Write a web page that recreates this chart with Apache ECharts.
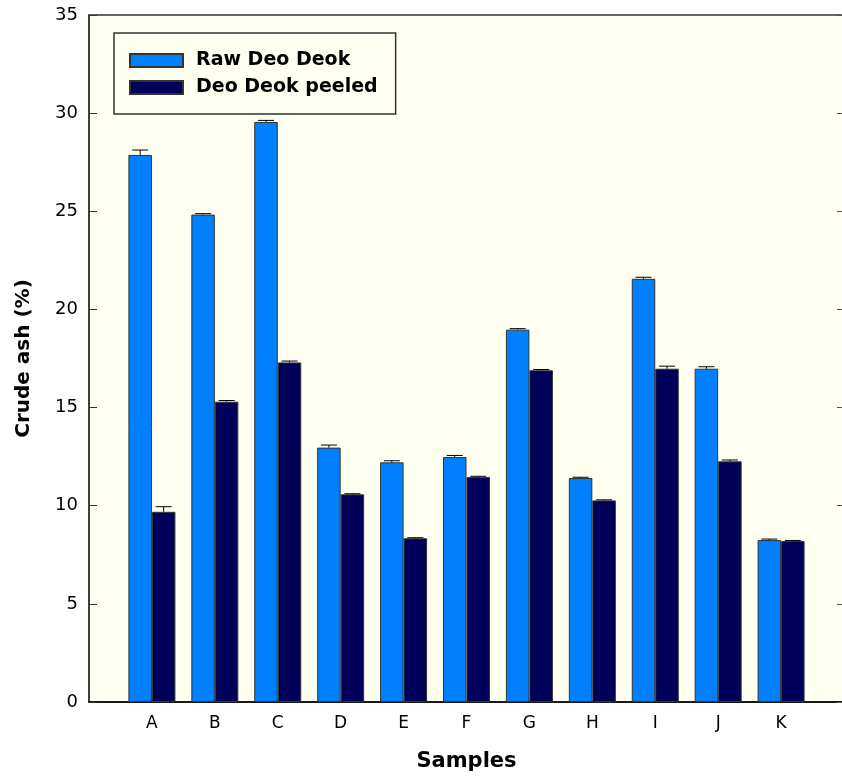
<!DOCTYPE html>
<html>
<head>
<meta charset="utf-8">
<script src="https://cdn.jsdelivr.net/npm/echarts@6/dist/echarts.min.js"></script>
<style>
html,body{margin:0;padding:0;background:#fff;}
#chart{width:842px;height:780px;}
</style>
</head>
<body>
<div id="chart"></div>
<script>
const categories = ['A','B','C','D','E','F','G','H','I','J','K'];
const rawValues = [27.87, 24.83, 29.55, 12.96, 12.21, 12.48, 18.97, 11.41, 21.56, 16.98, 8.25];
const rawErrors = [0.25, 0.05, 0.08, 0.13, 0.08, 0.08, 0.05, 0.04, 0.08, 0.10, 0.05];
const peeledValues = [9.69, 15.30, 17.30, 10.58, 8.34, 11.46, 16.90, 10.27, 16.98, 12.26, 8.20];
const peeledErrors = [0.26, 0.06, 0.07, 0.03, 0.03, 0.04, 0.04, 0.03, 0.13, 0.07, 0.03];
const yTicks = [0, 5, 10, 15, 20, 25, 30, 35];
const seriesNames = ['Raw Deo Deok', 'Deo Deok peeled'];

const BAR_W = 23.5;
const FONT = 'DejaVu Sans';
const axisData = [''].concat(categories, ['']);
function padded(arr) { return [null].concat(arr, [null]); }
function errData(vals, errs) { return vals.map((v, i) => [i + 1, v, errs[i]]); }

function errRender(offset) {
  return function (params, api) {
    const idx = api.value(0), v = api.value(1), e = api.value(2);
    const base = api.coord([idx, v]);
    const top = api.coord([idx, v + e]);
    const x = base[0] + offset;
    return {
      type: 'group',
      children: [
        { type: 'line', shape: { x1: x, y1: base[1], x2: x, y2: top[1] }, style: { stroke: '#000', lineWidth: 1 } },
        { type: 'line', shape: { x1: x - 8, y1: top[1], x2: x + 8, y2: top[1] }, style: { stroke: '#000', lineWidth: 1 } }
      ]
    };
  };
}

const chart = echarts.init(document.getElementById('chart'));
chart.setOption({
  animation: false,
  backgroundColor: '#ffffff',
  grid: {
    left: 89, right: -2, top: 15, bottom: 78,
    outerBoundsMode: 'none', containLabel: false,
    show: true, backgroundColor: '#fffff0', borderColor: '#333', borderWidth: 1.5
  },
  legend: {
    data: seriesNames,
    orient: 'vertical',
    left: 114, top: 33,
    itemWidth: 53, itemHeight: 13, itemGap: 8,
    padding: [18, 18, 17, 15],
    borderColor: '#333', borderWidth: 1.5,
    backgroundColor: '#fffff0',
    icon: 'rect',
    textStyle: { fontFamily: FONT, fontWeight: 'bold', fontSize: 19, color: '#000', padding: [0, 0, 0, 8] }
  },
  xAxis: {
    type: 'category',
    data: axisData,
    boundaryGap: false,
    axisLine: { lineStyle: { color: '#000', width: 1.5 } },
    axisTick: { show: false },
    axisLabel: { fontFamily: FONT, fontSize: 17, color: '#000', margin: 13, interval: 0 },
    name: 'Samples',
    nameLocation: 'middle',
    nameGap: 49,
    nameTextStyle: { fontFamily: FONT, fontWeight: 'bold', fontSize: 21, color: '#000' }
  },
  yAxis: [{
    type: 'value',
    min: 0, max: 35, interval: 5,
    position: 'left',
    splitLine: { show: false },
    axisLine: { show: true, lineStyle: { color: '#333', width: 1.5 } },
    axisTick: { show: true, inside: true, length: 8, lineStyle: { color: '#333' } },
    axisLabel: { fontFamily: FONT, fontSize: 18, color: '#000', margin: 11,
      formatter: v => yTicks.indexOf(v) >= 0 ? String(v) : '' },
    name: 'Crude ash (%)',
    nameLocation: 'middle',
    nameGap: 55,
    nameTextStyle: { fontFamily: FONT, fontWeight: 'bold', fontSize: 20, color: '#000' }
  }, {
    type: 'value',
    min: 0, max: 35, interval: 5,
    position: 'right',
    splitLine: { show: false },
    axisLine: { show: false },
    axisTick: { show: true, inside: true, length: 7, lineStyle: { color: '#555' } },
    axisLabel: { show: false }
  }],
  series: [
    {
      name: seriesNames[0], type: 'bar', data: padded(rawValues),
      barWidth: BAR_W, barGap: '0%',
      itemStyle: { color: '#0080ff', borderColor: '#333', borderWidth: 1 }
    },
    {
      name: seriesNames[1], type: 'bar', data: padded(peeledValues),
      barWidth: BAR_W, barGap: '0%',
      itemStyle: { color: '#00005a', borderColor: '#333', borderWidth: 1 }
    },
    {
      type: 'custom', renderItem: errRender(-BAR_W / 2), data: errData(rawValues, rawErrors), z: 5,
      encode: { x: 0, y: 1 }
    },
    {
      type: 'custom', renderItem: errRender(BAR_W / 2), data: errData(peeledValues, peeledErrors), z: 5,
      encode: { x: 0, y: 1 }
    }
  ]
});
</script>
</body>
</html>
